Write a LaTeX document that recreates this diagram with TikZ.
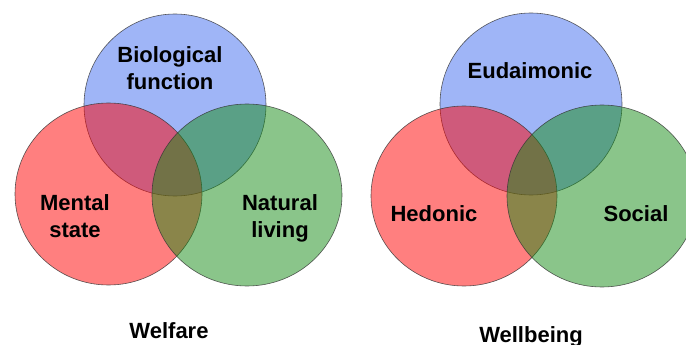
\documentclass[tikz,border=0pt]{standalone}
\usepackage{fontspec}
\setmainfont{Liberation Sans}
\definecolor{vblue}{RGB}{64,108,240}
\definecolor{vred}{RGB}{255,0,0}
\definecolor{vgreen}{RGB}{22,140,22}
\tikzset{
  venn/.style={draw=black!80, line width=0.6pt, draw opacity=0.8, fill opacity=0.5},
  lbl/.style={font=\bfseries\fontsize{22}{27}\selectfont, inner sep=0pt, align=center, text=black}
}
\begin{document}
\begin{tikzpicture}[x=1pt,y=-1pt]
\useasboundingbox (0,0) rectangle (686,345);
% Welfare
\path[venn, fill=vblue] (175,105) ellipse [x radius=91, y radius=91];
\path[venn, fill=vred] (108.5,194) ellipse [x radius=93.5, y radius=91];
\path[venn, fill=vgreen] (247,195) ellipse [x radius=95, y radius=91];
\node[lbl] (bio) at (170,68.5) {Biological\\function};
\node[lbl] (men) at (75,216) {Mental\\state};
\node[lbl] (nat) at (280,218) {Natural\\living};
\node[lbl, anchor=base] (welf) at (169,338) {Welfare};
% Wellbeing
\path[venn, fill=vblue] (531,104) ellipse [x radius=91, y radius=91];
\path[venn, fill=vred] (464,196) ellipse [x radius=93, y radius=90];
\path[venn, fill=vgreen] (602,196) ellipse [x radius=95, y radius=91];
\node[lbl, anchor=base] (eud) at (530,79) {Eudaimonic};
\node[lbl, anchor=base] (hed) at (434,221) {Hedonic};
\node[lbl, anchor=base] (soc) at (636,221) {Social};
\node[lbl, anchor=base] (wellb) at (531,342) {Wellbeing};
\end{tikzpicture}
\end{document}
